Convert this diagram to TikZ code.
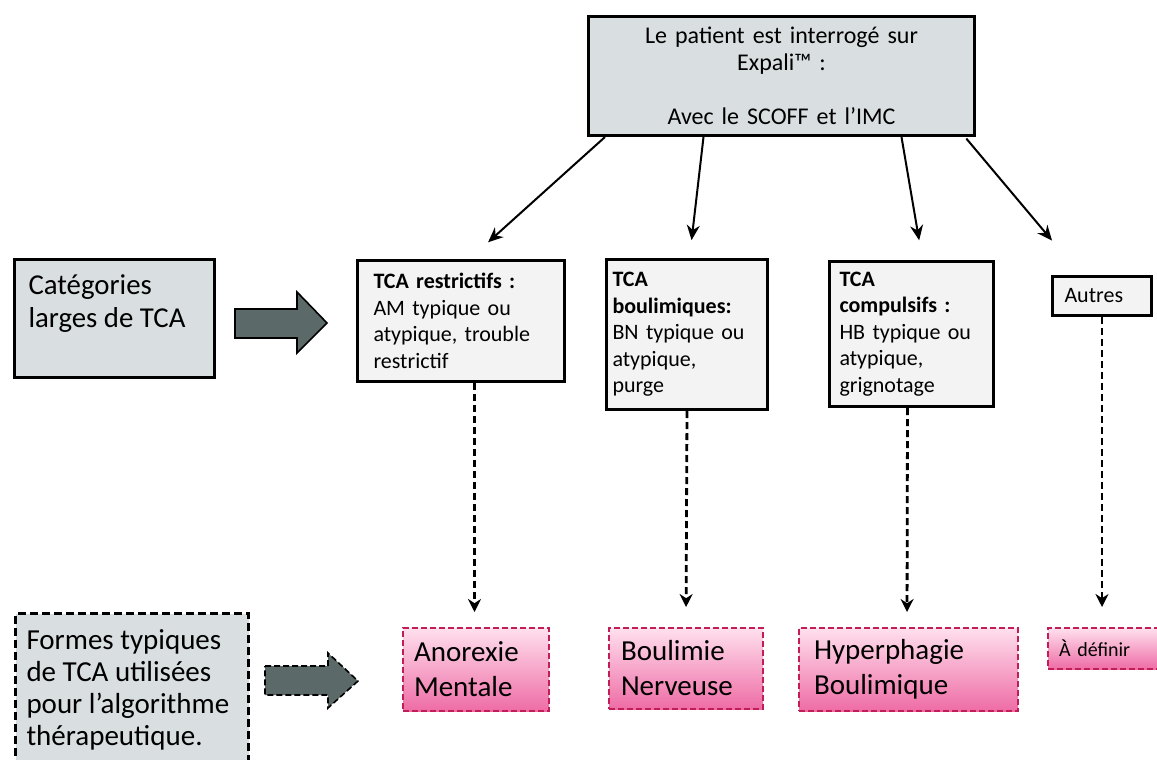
\documentclass[tikz,border=0pt]{standalone}
\usepackage{fontspec}
\setmainfont{Carlito}
\usetikzlibrary{arrows.meta}
\definecolor{gris}{HTML}{D9DEE0}
\definecolor{grisclair}{HTML}{F3F3F3}
\definecolor{ardoise}{HTML}{5B6A68}
\definecolor{roseclair}{HTML}{FFE0EE}
\definecolor{rosefonce}{HTML}{EE6CA5}
\definecolor{framboise}{HTML}{C21E56}
\begin{document}
\begin{tikzpicture}[x=0.5pt,y=-0.5pt,
  boite/.style={draw=black,line width=1.5pt,anchor=north west,align=left,inner ysep=5pt},
  rose/.style={draw=framboise,line width=1pt,dash pattern=on 3pt off 1.5pt,top color=roseclair,bottom color=rosefonce,anchor=north west,align=left,inner ysep=3pt},
  fleche/.style={line width=1pt,-{Stealth[length=7.5pt,width=6.5pt]}},
  pointille/.style={line width=1.4pt,dash pattern=on 3.5pt off 2pt,-{Stealth[length=6.5pt,width=6.5pt]}},
  grosse/.style={draw=black,line width=0.8pt,fill=ardoise}]
\useasboundingbox (0,0) rectangle (1157,760);
% ligne du haut
\node[boite,fill=gris,align=center,text width=185pt,inner xsep=4pt,minimum height=59.5pt,font=\fontsize{12}{13.5}\selectfont] (haut) at (587,15)
  {Le patient est interrogé sur\\Expali™ :\\[13.5pt]Avec le SCOFF et l’IMC};
% categories
\node[boite,fill=gris,inner xsep=7pt,inner ysep=7.5pt,font=\fontsize{14.4}{16.5}\selectfont] (cat) at (13,258)
  {\parbox[t][44pt][t]{86pt}{Catégories\\larges de TCA}};
\draw[grosse] (235,309) -- (297,309) -- (297,292) -- (327,323) -- (297,353) -- (297,338) -- (235,338) -- cycle;
\node[boite,fill=grisclair,text width=87.5pt,inner xsep=8pt,minimum height=60.5pt,font=\fontsize{11}{13.25}\selectfont] (restr) at (356,259)
  {\textbf{TCA restrictifs :}\\AM typique ou\\atypique, trouble\\restrictif};
\node[boite,fill=grisclair,text width=74.5pt,inner xsep=3pt,minimum height=75pt,font=\fontsize{11}{13.25}\selectfont] (boul) at (605,258)
  {\textbf{TCA}\\\textbf{boulimiques:}\\BN typique ou\\atypique,\\purge};
\node[boite,fill=grisclair,text width=72pt,inner xsep=5pt,minimum height=72.5pt,font=\fontsize{11}{13.25}\selectfont] (comp) at (828,260)
  {\textbf{TCA}\\\textbf{compulsifs :}\\HB typique ou\\atypique,\\grignotage};
\node[boite,fill=grisclair,text width=37.5pt,inner xsep=6pt,inner ysep=2pt,minimum height=19.5pt,font=\fontsize{11}{13.25}\selectfont] (autres) at (1051,275) {Autres};
% formes typiques
\node[boite,fill=gris,dash pattern=on 4pt off 2pt,inner xsep=5.5pt,inner ysep=8pt,font=\fontsize{14.5}{16}\selectfont] (formes) at (14,612)
  {\parbox[t][80pt][t]{105.5pt}{Formes typiques\\de TCA utilisées\\pour l’algorithme\\thérapeutique.}};
\draw[grosse,dash pattern=on 3pt off 1.5pt] (265,666) -- (328,666) -- (328,653) -- (358,681) -- (328,708) -- (328,695) -- (265,695) -- cycle;
\node[rose,text width=62pt,inner xsep=5.5pt,minimum height=41.5pt,font=\fontsize{14.5}{17.5}\selectfont] (anor) at (402,627) {Anorexie\\Mentale};
\node[rose,text width=65pt,inner xsep=6pt,minimum height=40.5pt,font=\fontsize{14.5}{17.5}\selectfont] (bn) at (608,627) {Boulimie\\Nerveuse};
\node[rose,text width=94.5pt,inner xsep=7.5pt,minimum height=41.5pt,font=\fontsize{14.5}{17.5}\selectfont] (hyper) at (798,627) {Hyperphagie\\Boulimique};
\node[rose,text width=54pt,inner xsep=5.5pt,minimum height=20.5pt,font=\fontsize{10}{12}\selectfont] (defin) at (1047,627) {À définir};
% fleches
\draw[fleche,shorten >=12.5pt] ([xshift=9pt]haut.south west) -- ([xshift=4.25pt]restr.north);
\draw[fleche,shorten >=9pt] ([xshift=-39pt]haut.south) -- ([xshift=1.25pt]boul.north);
\draw[fleche,shorten >=10pt] ([xshift=60pt]haut.south) -- ([xshift=5.5pt]comp.north);
\draw[fleche,shorten <=1pt,shorten >=22.5pt] ([xshift=-5.5pt]haut.south east) -- ([xshift=-10.5pt]autres.north);
\draw[pointille,shorten >=7.5pt] ([xshift=6.75pt]restr.south) -- ([xshift=-0.75pt]anor.north);
\draw[pointille,shorten >=10pt] (boul.south) -- (bn.north);
\draw[pointille,shorten >=7.5pt] ([xshift=-2pt]comp.south) -- ([xshift=-0.75pt]hyper.north);
\draw[pointille,shorten >=10pt] (autres.south) -- ([xshift=-5.5pt]defin.north);
\end{tikzpicture}
\end{document}
